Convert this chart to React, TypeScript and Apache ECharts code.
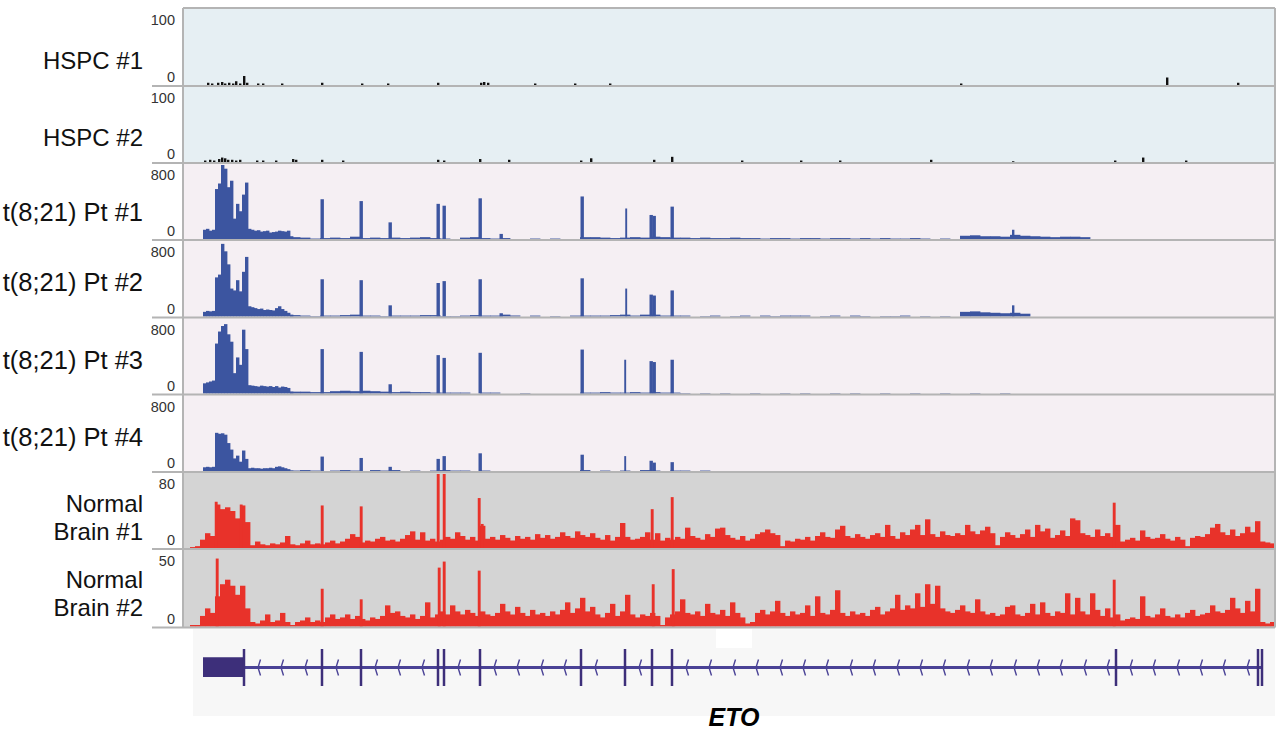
import React, { useEffect, useRef } from 'react';
import * as echarts from 'echarts';

// ---------- DATA ----------
const trackNames = ['HSPC #1', 'HSPC #2', 't(8;21) Pt #1', 't(8;21) Pt #2', 't(8;21) Pt #3', 't(8;21) Pt #4', 'Normal\nBrain #1', 'Normal\nBrain #2'];
const trackMax = [100, 100, 800, 800, 800, 800, 80, 50];

// genomic position units (browser coordinate, 183..1273)
const CLUSTER_X0 = 203, CLUSTER_W = 3;
const NOISE_X0 = 290, NOISE_W = 10;
const DENSE_X0 = 190, DENSE_W = 5;

// HSPC tracks: [position, coverage]
const hspc1Marks = [[208, 3], [212, 2], [218, 3], [222, 4], [225, 2], [229, 3], [233, 2], [236, 5], [240, 2], [244, 12], [247, 3], [258, 2], [263, 2], [282, 2], [322, 3], [362, 2], [388, 2], [438, 3], [481, 3], [484, 4], [488, 3], [535, 2], [575, 2], [610, 2], [961, 2], [1167, 10], [1238, 3]];
const hspc2Marks = [[205, 2], [210, 3], [214, 2], [219, 4], [222, 6], [225, 5], [228, 3], [232, 3], [236, 2], [240, 3], [257, 2], [263, 2], [276, 2], [293, 4], [296, 3], [322, 3], [343, 2], [438, 3], [444, 2], [480, 4], [509, 3], [581, 2], [591, 5], [654, 3], [672, 7], [742, 2], [801, 2], [840, 2], [931, 3], [1013, 1], [1115, 2], [1143, 6], [1186, 2]];

// t(8;21) patients: 5' cluster (3-unit bins from 203), low background (10-unit bins from 290), exon spikes
const pt1Cluster = [100, 110, 90, 100, 540, 600, 800, 760, 560, 630, 220, 380, 300, 480, 610, 110, 100, 90, 95, 80, 85, 90, 70, 75, 80, 90, 85, 80, 90, 30];
const pt1Noise = [20, 15, 5, 10, 15, 10, 25, 10, 15, 10, 15, 10, 15, 20, 10, 5, 0, 15, 20, 10, 5, 10, 0, 0, 5, 0, 5, 0, 0, 20, 20, 15, 10, 15, 20, 15, 25, 20, 15, 15, 10, 15, 10, 10, 15, 10, 10, 5, 10, 10, 5, 10, 10, 5, 10, 10, 5, 10, 5, 10, 5, 5, 10, 5, 0, 5, 0, 35, 40, 30, 30, 25, 45, 35, 30, 25, 20, 25, 25, 20];
const pt1Spikes = [[322, 430], [361, 410], [390, 180], [438, 380], [444, 360], [480, 440], [501, 55], [582, 460], [626, 330, 1.5], [651, 260], [654, 250], [672, 350], [1013, 100, 2]];

const pt2Cluster = [50, 60, 55, 60, 420, 450, 780, 700, 560, 300, 280, 390, 270, 480, 640, 110, 100, 90, 80, 85, 70, 75, 70, 65, 90, 110, 80, 60, 40, 20];
const pt2Noise = [15, 10, 5, 10, 10, 15, 20, 10, 10, 5, 10, 10, 10, 15, 15, 5, 5, 10, 15, 10, 10, 20, 10, 0, 10, 0, 5, 0, 10, 10, 10, 10, 15, 20, 10, 20, 20, 10, 10, 10, 0, 5, 10, 0, 5, 10, 0, 10, 5, 10, 10, 10, 0, 5, 10, 0, 10, 5, 0, 5, 5, 10, 0, 5, 0, 5, 0, 50, 55, 45, 40, 35, 40, 30];
const pt2Spikes = [[322, 400], [361, 390], [390, 120], [438, 360], [444, 380], [480, 400], [501, 35], [582, 410], [626, 300, 1.5], [651, 235], [654, 225], [672, 280], [1013, 120, 2]];

const pt3Cluster = [110, 120, 130, 140, 540, 670, 730, 750, 640, 560, 220, 390, 310, 690, 480, 90, 85, 80, 75, 85, 80, 75, 80, 70, 80, 65, 75, 70, 60, 20];
const pt3Noise = [20, 20, 15, 15, 25, 30, 25, 30, 25, 20, 15, 20, 15, 15, 10, 10, 10, 10, 0, 10, 10, 0, 0, 5, 0, 0, 0, 0, 0, 10, 10, 15, 10, 10, 15, 10, 15, 10, 10, 5, 0, 5, 0, 5, 0, 0, 5, 0, 0, 5, 0, 5, 0, 0, 5, 0, 5, 0, 0, 5, 0, 0, 5, 0, 0, 5, 0, 0, 5, 0, 0, 5];
const pt3Spikes = [[322, 480], [361, 450], [390, 100], [438, 415], [444, 385], [480, 440], [582, 475], [625, 365, 1.5], [651, 350], [654, 340], [672, 365]];

const pt4Cluster = [40, 45, 40, 45, 410, 400, 405, 390, 300, 230, 135, 165, 100, 220, 130, 30, 35, 30, 30, 25, 30, 30, 35, 30, 45, 50, 40, 30, 20, 5];
const pt4Noise = [5, 10, 5, 0, 5, 10, 5, 0, 10, 5, 10, 0, 5, 0, 5, 10, 5, 5, 0, 5, 0, 0, 0, 0, 0, 0, 0, 0, 0, 10, 0, 5, 0, 5, 0, 10, 5, 0, 5, 5, 0, 5];
const pt4Spikes = [[322, 155], [361, 140], [390, 45], [438, 130], [444, 160], [480, 190], [582, 175], [625, 160, 1.5], [651, 110], [654, 90], [672, 95]];

// Normal brain: 5-unit bins from 190 to 1270
const nb1Dense = [
  1, 2, 9, 16, 13, 47, 42, 44, 40, 32,
  46, 28, 3, 7, 4, 3, 5, 4, 6, 13,
  4, 3, 5, 8, 4, 5, 4, 6, 8, 5,
  7, 10, 15, 12, 6, 8, 7, 10, 12, 8,
  9, 7, 10, 14, 18, 9, 17, 8, 10, 7,
  9, 12, 10, 17, 13, 9, 12, 8, 24, 10,
  12, 9, 14, 11, 8, 13, 10, 12, 9, 15,
  11, 14, 10, 12, 17, 13, 11, 18, 14, 12,
  16, 11, 9, 14, 8, 12, 27, 12, 9, 10,
  12, 17, 9, 16, 8, 11, 9, 12, 10, 22,
  13, 11, 9, 15, 12, 21, 22, 14, 11, 9,
  13, 8, 10, 15, 17, 20, 16, 14, 2, 8,
  7, 10, 9, 12, 8, 13, 17, 12, 11, 20,
  24, 13, 11, 15, 12, 10, 14, 16, 12, 25,
  13, 10, 17, 14, 20, 25, 14, 31, 15, 12,
  18, 14, 13, 16, 14, 25, 18, 15, 19, 23,
  16, 3, 12, 17, 14, 11, 15, 20, 12, 25,
  18, 21, 11, 14, 19, 13, 32, 30, 16, 14,
  12, 20, 13, 16, 12, 25, 7, 9, 11, 8,
  19, 12, 10, 11, 15, 10, 8, 12, 9, 2,
  11, 13, 12, 15, 22, 26, 17, 14, 20, 13,
  16, 23, 17, 29, 7, 6, 5,
];
const nb1Spikes = [[216, 50], [241, 47], [322, 46], [361, 45], [438, 80], [444, 80], [479, 54], [482, 26], [652, 42], [672, 55], [1114, 49]];

const nb2Dense = [
  1, 1, 7, 12, 9, 20, 28, 31, 27, 21,
  27, 12, 3, 2, 4, 8, 3, 4, 9, 3,
  1, 3, 4, 6, 3, 4, 3, 6, 8, 5,
  6, 8, 5, 7, 5, 4, 6, 5, 7, 14,
  9, 10, 7, 6, 8, 5, 7, 16, 6, 8,
  10, 8, 14, 10, 8, 11, 9, 7, 10, 8,
  7, 9, 15, 10, 8, 13, 9, 7, 11, 8,
  9, 7, 10, 8, 11, 16, 9, 12, 19, 10,
  13, 8, 6, 9, 15, 7, 10, 21, 8, 6,
  8, 7, 9, 7, 1, 6, 8, 10, 18, 9,
  8, 10, 7, 15, 9, 8, 11, 7, 16, 9,
  6, 2, 3, 9, 11, 8, 10, 17, 9, 7,
  10, 8, 9, 14, 7, 20, 9, 8, 11, 24,
  9, 7, 10, 8, 9, 7, 11, 13, 8, 10,
  12, 21, 11, 14, 12, 22, 13, 28, 15, 27,
  12, 10, 9, 11, 14, 10, 9, 18, 10, 8,
  9, 7, 8, 13, 14, 8, 7, 9, 15, 8,
  16, 9, 7, 10, 9, 22, 8, 19, 10, 8,
  22, 11, 7, 12, 6, 8, 4, 5, 6, 5,
  20, 7, 6, 8, 12, 7, 6, 8, 6, 9,
  11, 7, 8, 9, 14, 10, 9, 11, 19, 12,
  9, 17, 10, 25, 3, 2, 3,
];
const nb2Spikes = [[217, 45], [322, 25], [361, 18], [439, 39], [444, 43], [479, 37], [653, 28], [673, 38], [1114, 31]];

// ETO gene model
const geneSpan = [203, 1262];
const geneExons = [[203, 244], [322, 322], [361, 361], [438, 438], [444, 444], [480, 480], [581, 581], [625, 625], [652, 652], [672, 672], [1116, 1116], [1258, 1258], [1262, 1262]];
const intronArrows = [258, 281, 305, 336, 375, 398, 422, 458, 494, 517, 541, 564, 595, 639, 686, 709, 733, 756, 780, 803, 826, 850, 873, 897, 920, 943, 967, 990, 1014, 1037, 1060, 1084, 1107, 1130, 1153, 1177, 1200, 1223, 1247];
const geneName = 'ETO';

// ---------- LAYOUT / STYLE ----------
const trackTop = [8, 86, 163, 240, 317.5, 394.5, 472, 549];
const trackBottom = [86, 163, 240, 317.5, 394.5, 472, 549, 627.5];
const trackBg = ['#e6eff3', '#e6eff3', '#f5eff3', '#f5eff3', '#f5eff3', '#f5eff3', '#d4d4d4', '#d4d4d4'];
const trackColor = ['#111111', '#111111', '#3c55a0', '#3c55a0', '#3c55a0', '#3c55a0', '#e8322a', '#e8322a'];
const labelY = [60, 137, 212, 282, 360, 437, 517, 593];
const labelSize = [24, 24, 25.5, 25.5, 25.5, 25.5, 24, 24];
const FONT = '"Liberation Sans", Arial, Helvetica, sans-serif';
const X_MIN = 183, X_MAX = 1273;

function bins(vals: number[], x0: number, w: number) {
  return vals.map((v, i) => [x0 + i * w, x0 + (i + 1) * w, v]);
}
function spikes(sp: number[][], w: number) {
  return sp.map((s) => {
    const ww = s[2] !== undefined ? s[2] : w;
    return [s[0] - ww / 2, s[0] + ww / 2, s[1]];
  });
}

const trackRects: number[][][] = [
  spikes(hspc1Marks, 2),
  spikes(hspc2Marks, 2),
  [...bins(pt1Cluster, CLUSTER_X0, CLUSTER_W), ...bins(pt1Noise, NOISE_X0, NOISE_W), ...spikes(pt1Spikes, 3)],
  [...bins(pt2Cluster, CLUSTER_X0, CLUSTER_W), ...bins(pt2Noise, NOISE_X0, NOISE_W), ...spikes(pt2Spikes, 3)],
  [...bins(pt3Cluster, CLUSTER_X0, CLUSTER_W), ...bins(pt3Noise, NOISE_X0, NOISE_W), ...spikes(pt3Spikes, 3)],
  [...bins(pt4Cluster, CLUSTER_X0, CLUSTER_W), ...bins(pt4Noise, NOISE_X0, NOISE_W), ...spikes(pt4Spikes, 3)],
  [...bins(nb1Dense, DENSE_X0, DENSE_W), ...spikes(nb1Spikes, 2.5)],
  [...bins(nb2Dense, DENSE_X0, DENSE_W), ...spikes(nb2Spikes, 2.5)],
];

function buildOption() {
  const grids: any[] = [];
  const xAxes: any[] = [];
  const yAxes: any[] = [];
  const series: any[] = [];
  const graphics: any[] = [];

  for (let i = 0; i < 8; i++) {
    const top = trackTop[i] + 2;
    const h = trackBottom[i] - trackTop[i] - 3;
    grids.push({ left: X_MIN, right: 1278 - X_MAX, top, height: h });
    xAxes.push({ type: 'value', gridIndex: i, min: X_MIN, max: X_MAX, show: false });
    yAxes.push({ type: 'value', gridIndex: i, min: 0, max: trackMax[i], show: false });
    const max = trackMax[i];
    const color = trackColor[i];
    series.push({
      type: 'custom',
      xAxisIndex: i,
      yAxisIndex: i,
      encode: { x: [0, 1], y: 2 },
      data: trackRects[i],
      z: 3,
      renderItem: (params: any, api: any) => {
        const v = Math.min(api.value(2), max);
        if (!(v > 0)) return null;
        const a = api.coord([api.value(0), v]);
        const b = api.coord([api.value(1), 0]);
        return {
          type: 'rect',
          shape: { x: a[0], y: a[1], width: Math.max(b[0] - a[0] + 0.4, 1), height: b[1] - a[1] },
          style: { fill: color },
        };
      },
    });

    graphics.push({
      type: 'rect', z: 0, silent: true,
      shape: { x: X_MIN, y: trackTop[i], width: 1275 - X_MIN, height: trackBottom[i] - trackTop[i] },
      style: { fill: trackBg[i] },
    });
    graphics.push({
      type: 'line', z: 5, silent: true,
      shape: { x1: 152, y1: trackBottom[i], x2: 1275, y2: trackBottom[i] },
      style: { stroke: '#b4b4b4', lineWidth: 2 },
    });
    graphics.push({
      type: 'text', z: 5, silent: true,
      style: { text: String(trackMax[i]), x: 175, y: trackTop[i] + 12, align: 'right', verticalAlign: 'middle', font: `14.5px ${FONT}`, fill: '#333' },
    });
    graphics.push({
      type: 'text', z: 5, silent: true,
      style: { text: '0', x: 175, y: trackBottom[i] - 9, align: 'right', verticalAlign: 'middle', font: `14.5px ${FONT}`, fill: '#333' },
    });
    graphics.push({
      type: 'text', z: 5, silent: true,
      style: { text: trackNames[i], x: 143, y: labelY[i], align: 'right', verticalAlign: 'middle', font: `${labelSize[i]}px ${FONT}`, fill: '#111', lineHeight: 28 },
    });
  }

  graphics.push({ type: 'line', z: 5, silent: true, shape: { x1: X_MIN, y1: 8, x2: 1275, y2: 8 }, style: { stroke: '#b4b4b4', lineWidth: 2 } });
  graphics.push({ type: 'line', z: 5, silent: true, shape: { x1: X_MIN, y1: 8, x2: X_MIN, y2: 627.5 }, style: { stroke: '#b4b4b4', lineWidth: 2 } });
  graphics.push({ type: 'line', z: 5, silent: true, shape: { x1: 1275, y1: 8, x2: 1275, y2: 627.5 }, style: { stroke: '#b4b4b4', lineWidth: 2 } });

  graphics.push({ type: 'rect', z: 0, silent: true, shape: { x: 193, y: 629, width: 1082, height: 87 }, style: { fill: '#f7f7f7' } });
  graphics.push({ type: 'rect', z: 1, silent: true, shape: { x: 716, y: 629, width: 36, height: 19 }, style: { fill: '#ffffff' } });
  graphics.push({
    type: 'text', z: 5, silent: true,
    style: { text: geneName, x: 734, y: 717, align: 'center', verticalAlign: 'middle', font: `italic bold 25px ${FONT}`, fill: '#000' },
  });

  const gi = 8;
  grids.push({ left: X_MIN, right: 1278 - X_MAX, top: 649, height: 37 });
  xAxes.push({ type: 'value', gridIndex: gi, min: X_MIN, max: X_MAX, show: false });
  yAxes.push({ type: 'value', gridIndex: gi, min: 0, max: 1, show: false });

  series.push({
    type: 'custom', xAxisIndex: gi, yAxisIndex: gi, z: 2,
    data: [geneSpan],
    encode: { x: [0, 1] },
    renderItem: (params: any, api: any) => {
      const a = api.coord([api.value(0), 0.5]);
      const b = api.coord([api.value(1), 0.5]);
      return { type: 'line', shape: { x1: a[0], y1: a[1], x2: b[0], y2: b[1] }, style: { stroke: '#4a4296', lineWidth: 3 } };
    },
  });
  series.push({
    type: 'custom', xAxisIndex: gi, yAxisIndex: gi, z: 3,
    data: intronArrows.map((x) => [x]),
    encode: { x: 0 },
    renderItem: (params: any, api: any) => {
      const c = api.coord([api.value(0), 0.5]);
      return {
        type: 'polyline',
        shape: { points: [[c[0] + 2.5, c[1] - 8], [c[0], c[1]], [c[0] + 2.5, c[1] + 8]] },
        style: { stroke: '#4a4296', lineWidth: 1.4, fill: null },
      };
    },
  });
  series.push({
    type: 'custom', xAxisIndex: gi, yAxisIndex: gi, z: 4,
    data: geneExons,
    encode: { x: [0, 1] },
    renderItem: (params: any, api: any) => {
      const s = api.value(0), e = api.value(1);
      if (e - s > 2) {
        const a = api.coord([s, 0.78]);
        const b = api.coord([e, 0.24]);
        return {
          type: 'group',
          children: [
            { type: 'rect', shape: { x: a[0], y: a[1], width: b[0] - a[0], height: b[1] - a[1] }, style: { fill: '#3d2f7a' } },
            { type: 'line', shape: { x1: b[0], y1: api.coord([e, 1])[1], x2: b[0], y2: api.coord([e, 0])[1] }, style: { stroke: '#3d2f7a', lineWidth: 2.5 } },
          ],
        };
      }
      const t = api.coord([s, 1]);
      const bt = api.coord([s, 0]);
      return { type: 'line', shape: { x1: t[0], y1: t[1], x2: bt[0], y2: bt[1] }, style: { stroke: '#3d2f7a', lineWidth: 2.5 } };
    },
  });

  return {
    animation: false,
    backgroundColor: '#ffffff',
    grid: grids,
    xAxis: xAxes,
    yAxis: yAxes,
    series,
    graphic: { elements: graphics },
  };
}

export default function App() {
  const ref = useRef<HTMLDivElement>(null);
  useEffect(() => {
    if (!ref.current) return;
    const chart = echarts.init(ref.current, undefined, { renderer: 'svg' });
    chart.setOption(buildOption() as any);
    return () => chart.dispose();
  }, []);
  return <div ref={ref} style={{ position: 'fixed', left: 0, top: 0, width: 1278, height: 732 }} />;
}
